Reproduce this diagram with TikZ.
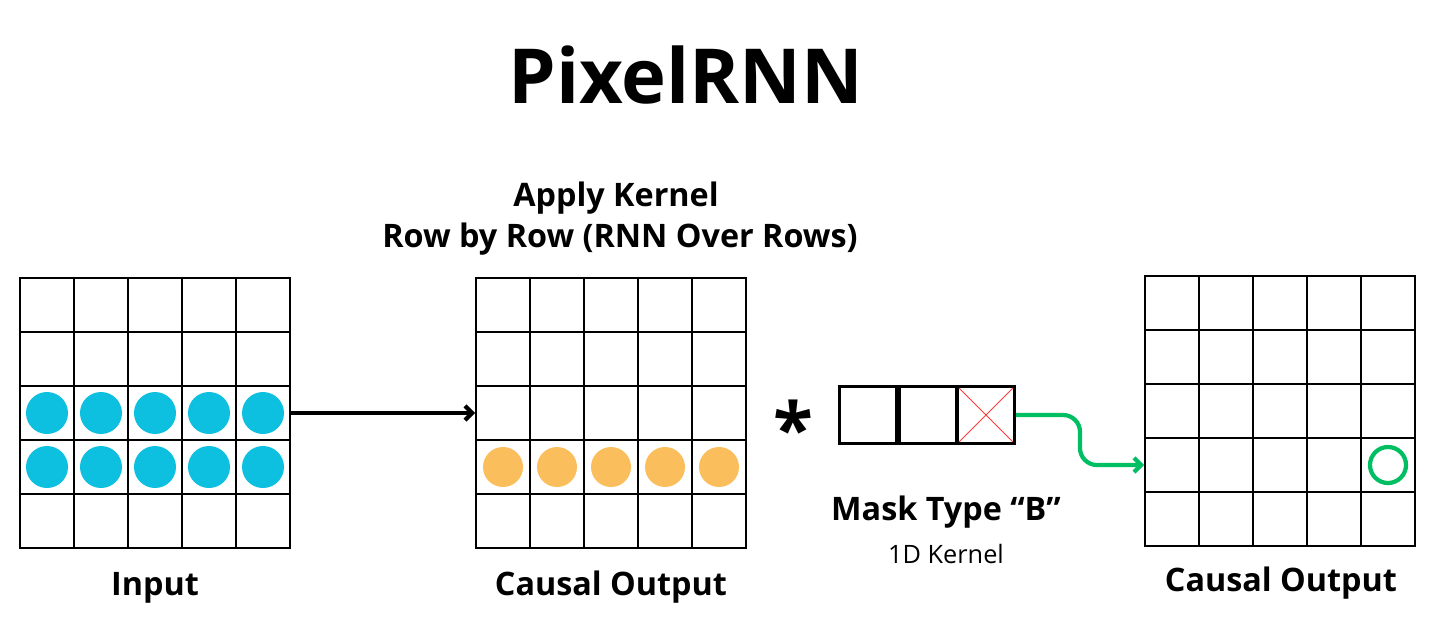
\documentclass[tikz,border=0pt]{standalone}
\usepackage{fontspec}
\setmainfont{Open Sans}
\usetikzlibrary{arrows.meta}
\definecolor{pixcyan}{RGB}{14,192,223}
\definecolor{pixorange}{RGB}{251,190,92}
\definecolor{pixgreen}{RGB}{0,191,99}
\definecolor{pixred}{RGB}{255,60,60}
\begin{document}
\begin{tikzpicture}
  [x=0.025cm, y=-0.025cm,
    cell/.style={
      draw, line width=1.4pt, minimum size=1.35cm, inner sep=0pt
    },
    kbox/.style={
      draw, line width=2.1pt, minimum width=1.42cm, minimum height=1.42cm, inner sep=0pt
    },
    dot/.style={circle, minimum size=1.05cm, inner sep=0pt},
    ring/.style={circle, draw=pixgreen, line width=3pt, minimum size=0.9cm, inner sep=0pt},
    title/.style={font=\bfseries\fontsize{54}{60}\selectfont, anchor=base},
    label/.style={font=\bfseries\fontsize{23}{27}\selectfont, anchor=base},
    small/.style={font=\fontsize{18}{21}\selectfont, anchor=base},
  ]
  \useasboundingbox (0,0) rectangle (1434,621);

  % Three 5x5 grids
  \foreach \g/\x/\y in {in/20/278, co/476/278, res/1145/276}
    \foreach \r in {1,...,5}
      \foreach \c in {1,...,5}
        \node[cell] (\g-\r-\c) at ({\x+27+54*(\c-1)}, {\y+27+54*(\r-1)}) {};

  % Pixels in the grids
  \foreach \c in {1,...,5} {
    \node[dot, fill=pixcyan] (in-dot-3-\c) at (in-3-\c) {};
    \node[dot, fill=pixcyan] (in-dot-4-\c) at (in-4-\c) {};
    \node[dot, fill=pixorange, minimum size=1.0cm] (co-dot-4-\c) at (co-4-\c) {};
  }
  \node[ring] (res-mark) at (res-4-5) {};

  % 1D kernel
  \node[kbox] (k1) at (868,415) {};
  \node[kbox] (k2) at (928,415) {};
  \node[kbox] (k3) at (986,415) {};
  \draw[pixred, line width=0.6pt, shorten <=3pt, shorten >=3pt] (k3.north west) -- (k3.south east);
  \draw[pixred, line width=0.6pt, shorten <=3pt, shorten >=3pt] (k3.north east) -- (k3.south west);
  \node[font=\bfseries\fontsize{52}{60}\selectfont] (star) at (793,428) {*};

  % Arrows
  \draw[-{Straight Barb[length=5pt, width=10pt]}, line width=3pt] (in-3-5.east) -- (co-3-1.west);
  \draw[-{Straight Barb[length=5pt, width=10pt]}, line width=3pt, pixgreen, rounded corners=12]
    (k3.east) -- (1080,415) |- (res-4-1.west);

  % Texts
  \node[title] (head) at (686,103) {PixelRNN};
  \node[label] (apply) at (616,206) {Apply Kernel};
  \node[label] (rowby) at (620,247) {Row by Row (RNN Over Rows)};
  \node[label] (in-lab) at (155,595) {Input};
  \node[label] (co-lab) at (611,595) {Causal Output};
  \node[label] (res-lab) at (1281,591) {Causal Output};
  \node[label] (mask) at (946,520) {Mask Type “B”};
  \node[small] (kern) at (946,563) {1D Kernel};
\end{tikzpicture}
\end{document}
